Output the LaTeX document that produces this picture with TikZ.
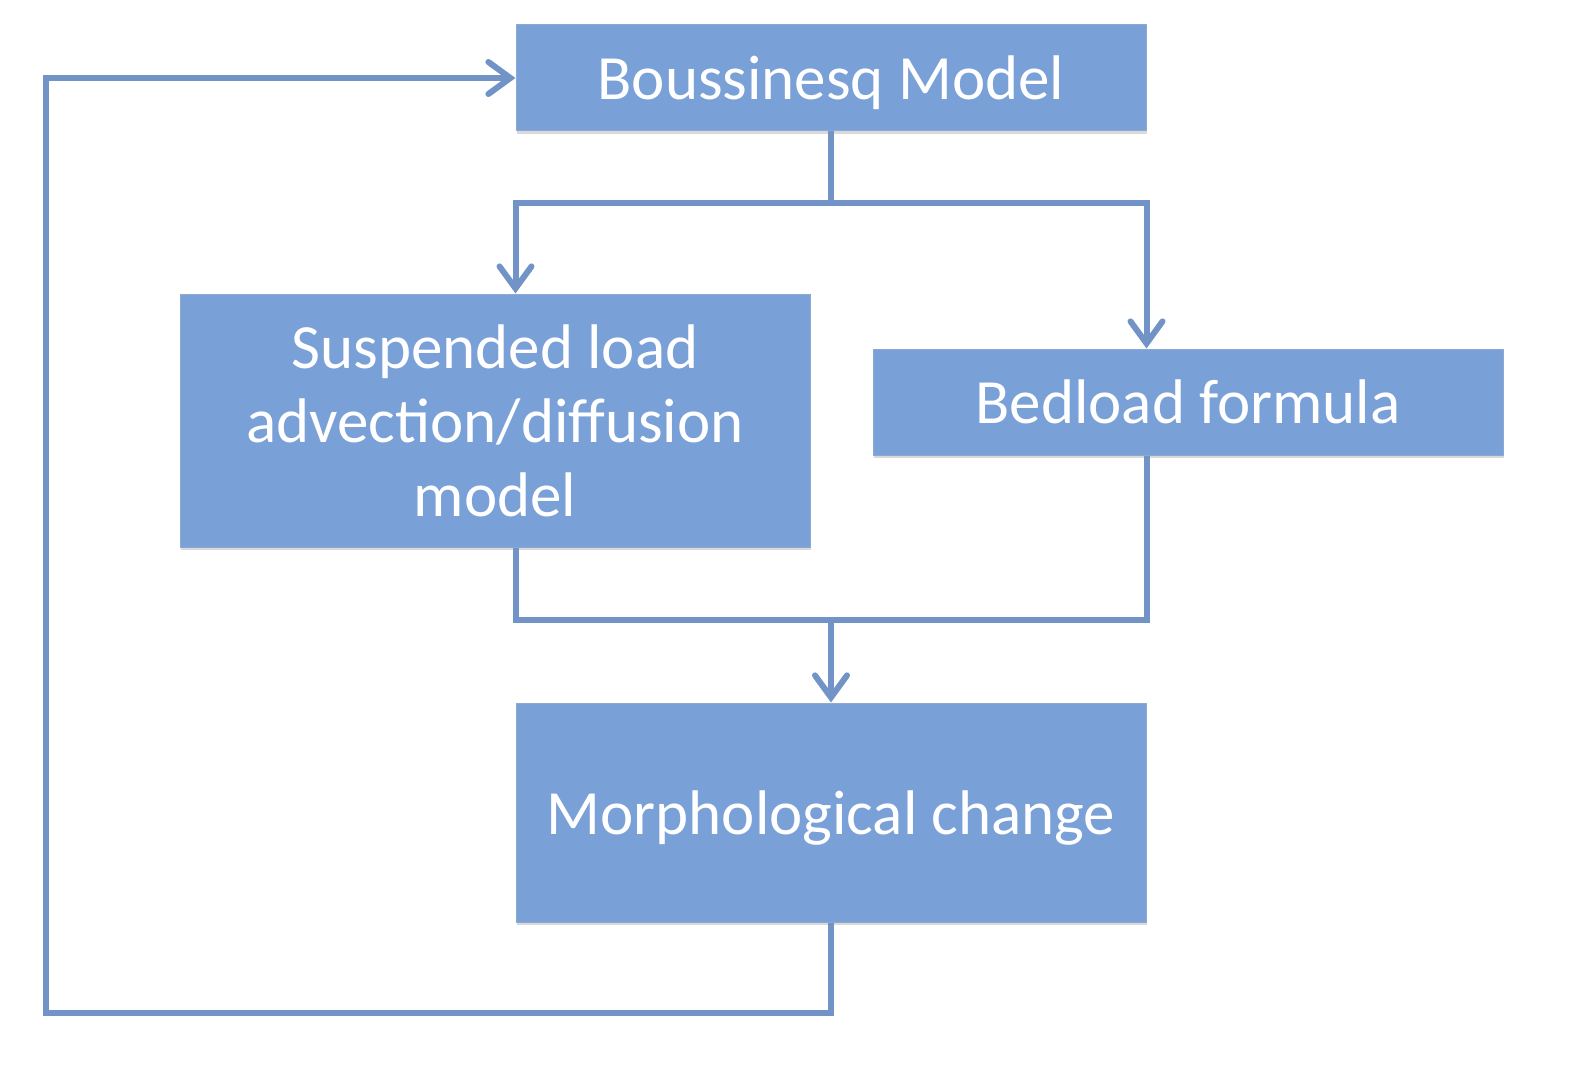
\documentclass[tikz,border=0pt]{standalone}
\usepackage{fontspec}
\setmainfont{Carlito}
\usetikzlibrary{positioning,arrows.meta,shadows}
\definecolor{boxblue}{RGB}{122,160,216}
\definecolor{lineblue}{RGB}{113,147,198}

\begin{document}
\begin{tikzpicture}[x=1pt,y=-1pt,
	block/.style={draw=lineblue!80, line width=1pt, fill=boxblue, text=white, minimum width=630pt, align=center,
		text depth=0pt, font=\fontsize{63}{74}\selectfont, drop shadow={shadow xshift=1pt, shadow yshift=-3pt, opacity=0.3}},
	link/.style={draw=lineblue, line width=6pt, line join=miter},
	arrow/.style={link, -{Straight Barb[length=22pt, width=32pt, line cap=round]}}]
	\useasboundingbox (0,0) rectangle (1575,1070);
	\node[block, minimum height=106pt] (bous) at (831,78) {Boussinesq Model};
	\node[block, minimum height=253pt] (susp) at (495,420.5) {Suspended load\\advection/diffusion\\model};
	\node[block, minimum height=106pt] (bed) at (1188,402) {Bedload formula};
	\node[block, minimum height=219pt] (morph) at (831,812.5) {Morphological change};
	\coordinate (split) at (831,203);
	\coordinate (join) at (831,620);
	\coordinate (back) at (46,1013);
	\draw[link] (bous.south) -- (split);
	\draw[arrow] (split) -| (susp.north -| bous.west);
	\draw[arrow] (split) -| (bed.north -| bous.east);
	\draw[link] (susp.south -| bous.west) |- (join);
	\draw[link] (bed.south -| bous.east) |- (join);
	\draw[arrow] (join) -- (morph.north);
	\draw[arrow] (morph.south) |- (back) |- (bous.west);
\end{tikzpicture}
\end{document}
